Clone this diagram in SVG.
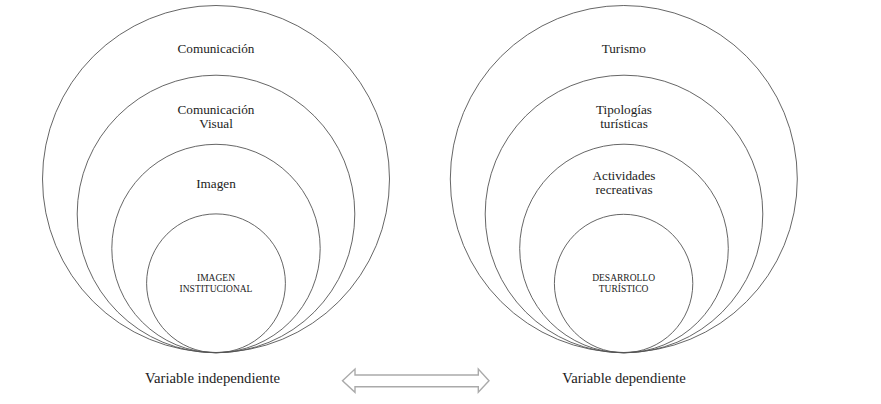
<svg xmlns="http://www.w3.org/2000/svg" width="881" height="404" viewBox="0 0 881 404">
<style>
.c{fill:none;stroke:#555;stroke-width:0.9}
text{font-family:'Liberation Serif','DejaVu Serif',serif;fill:#222}
.t{font-size:13.2px;text-anchor:middle}
.s{font-size:9.5px;text-anchor:middle}
.v{font-size:14.7px}
</style>
<rect width="881" height="404" fill="#fff"/>
<g id="comunicacion"><circle class="c" cx="216" cy="179" r="173.5"/><text class="t" x="216" y="53" font-family="Liberation Serif">Comunicación</text></g>
<g id="comunicacion-visual"><circle class="c" cx="216" cy="214" r="138.8"/><text class="t" x="216" y="114">Comunicación</text><text class="t" x="216" y="128">Visual</text></g>
<g id="imagen"><circle class="c" cx="216" cy="248.5" r="104.2"/><text class="t" x="216" y="188">Imagen</text></g>
<g id="imagen-institucional"><circle class="c" cx="216" cy="283.3" r="69.4"/><text class="s" x="216" y="281">IMAGEN</text><text class="s" x="216" y="292">INSTITUCIONAL</text></g>
<g id="turismo"><circle class="c" cx="623.8" cy="179" r="173.5"/><text class="t" x="623.8" y="53">Turismo</text></g>
<g id="tipologias"><circle class="c" cx="624" cy="214" r="138.8"/><text class="t" x="624" y="114">Tipologías</text><text class="t" x="624" y="127.5">turísticas</text></g>
<g id="actividades"><circle class="c" cx="624" cy="248.5" r="104.3"/><text class="t" x="624" y="180">Actividades</text><text class="t" x="624" y="194">recreativas</text></g>
<g id="desarrollo"><circle class="c" cx="623.6" cy="283.5" r="69.2"/><text class="s" x="623.6" y="281">DESARROLLO</text><text class="s" x="623.6" y="292">TURÍSTICO</text></g>
<g id="labels"><text class="v" x="145" y="382.5">Variable independiente</text><text class="v" x="562.3" y="382.5">Variable dependiente</text></g>
<g id="connectors"><path d="M342.5,380.7 L355,369 L355,375 L478.3,375 L478.3,369 L489,380.7 L478.3,392.3 L478.3,386.7 L355,386.7 L355,392.3 Z" fill="#fff" stroke="#aaa" stroke-width="1.4" stroke-linejoin="miter"/></g>
</svg>
